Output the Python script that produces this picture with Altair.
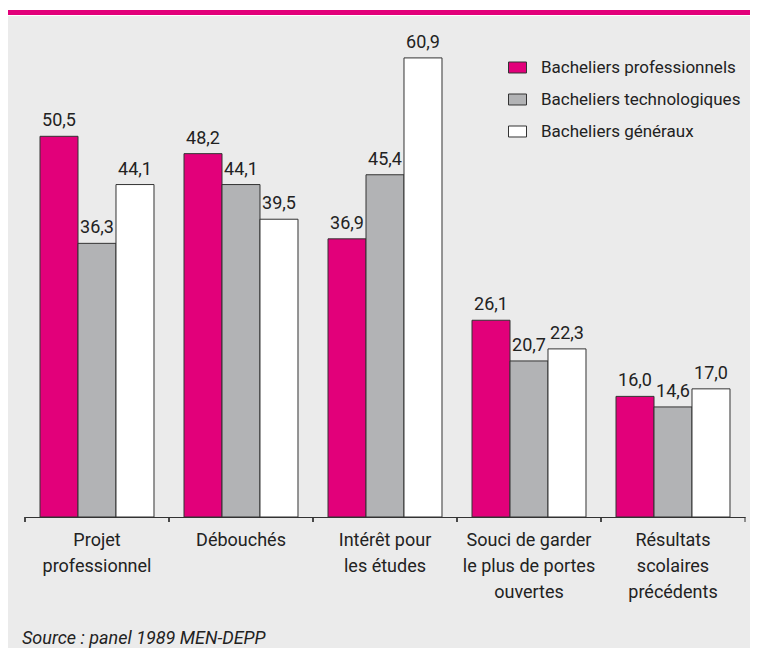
import altair as alt
import pandas as pd

categories = [
    "Projet\nprofessionnel",
    "Débouchés",
    "Intérêt pour\nles études",
    "Souci de garder\nle plus de portes\nouvertes",
    "Résultats\nscolaires\nprécédents",
]
series = ["Bacheliers professionnels", "Bacheliers technologiques", "Bacheliers généraux"]
pro = [50.5, 48.2, 36.9, 26.1, 16.0]
tech = [36.3, 44.1, 45.4, 20.7, 14.6]
gen = [44.1, 39.5, 60.9, 22.3, 17.0]
colors = ["#e2007a", "#b2b3b5", "#ffffff"]
source_text = "Source : panel 1989 MEN-DEPP"

rows = []
for s, vals in zip(series, [pro, tech, gen]):
    for c, v in zip(categories, vals):
        rows.append({"cat": c, "series": s, "value": v,
                     "label": f"{v:.1f}".replace(".", ",")})
df = pd.DataFrame(rows)

W, H = 720, 490
FONT = "Roboto"
FS = 18
DARK = "#333333"

xscale = alt.Scale(paddingInner=0, paddingOuter=0)
xoff = alt.XOffset("series:N", sort=series,
                   scale=alt.Scale(paddingInner=0, paddingOuter=0.395))
yenc = alt.Y("value:Q", scale=alt.Scale(domain=[0, 65]), axis=None)

base = alt.Chart(df)

bars = base.mark_bar(stroke=DARK, strokeWidth=1).encode(
    x=alt.X("cat:N", sort=categories, scale=xscale,
            axis=alt.Axis(title=None, labelAngle=0,
                          labelExpr="split(datum.label, '\\n')",
                          ticks=False, tickSize=0, domainColor=DARK,
                          domainWidth=1, labelFontSize=FS, labelFont=FONT,
                          labelColor="#222222", labelLineHeight=26,
                          labelPadding=14, labelLimit=0, grid=False)),
    xOffset=xoff,
    y=yenc,
    color=alt.Color("series:N", sort=series,
                    scale=alt.Scale(domain=series, range=colors),
                    legend=alt.Legend(title=None, orient="none",
                                      legendX=483, legendY=31,
                                      symbolType="M-1,-0.61H1V0.61H-1Z",
                                      symbolSize=324, symbolStrokeColor=DARK,
                                      symbolStrokeWidth=1, symbolOpacity=1,
                                      labelFontSize=17, labelFont=FONT,
                                      labelColor="#222222", labelOffset=14,
                                      labelLimit=0,
                                      rowPadding=14, padding=0)),
)

labels = base.mark_text(dy=-10, baseline="alphabetic", fontSize=FS,
                        font=FONT, color="#222222").encode(
    x=alt.X("cat:N", sort=categories, scale=xscale),
    xOffset=xoff,
    y=yenc,
    text="label:N",
)

ticks = base.mark_rule(color=DARK, strokeWidth=1).encode(
    x=alt.X("cat:N", sort=categories, scale=xscale, bandPosition=0),
    y=alt.value(H),
    y2=alt.value(H + 5),
)

deco = pd.DataFrame({"k": [0]})
end_tick = alt.Chart(deco).mark_rule(color=DARK, strokeWidth=1).encode(
    x=alt.value(W), y=alt.value(H), y2=alt.value(H + 5))
white_band = alt.Chart(deco).mark_rect(color="#ffffff").encode(
    x=alt.value(-17), x2=alt.value(W + 5), y=alt.value(-19), y2=alt.value(-11))
magenta_band = alt.Chart(deco).mark_rect(color="#e2007a").encode(
    x=alt.value(-17), x2=alt.value(W + 5), y=alt.value(-17), y2=alt.value(-12))
source = alt.Chart(deco).mark_text(
    align="left", baseline="alphabetic", fontSize=FS, font=FONT,
    fontStyle="italic", color="#222222").encode(
    x=alt.value(-3), y=alt.value(617), text=alt.value(source_text))

chart = alt.layer(white_band, magenta_band, bars, labels, ticks, end_tick, source).properties(
    width=W, height=H,
    autosize=alt.AutoSizeParams(type="none"),
    padding={"left": 17, "top": 19, "right": 5, "bottom": 131},
    background="#ebebeb",
).configure_view(stroke=None)

chart.save("out.html", embed_options={"renderer": "svg", "actions": False})
